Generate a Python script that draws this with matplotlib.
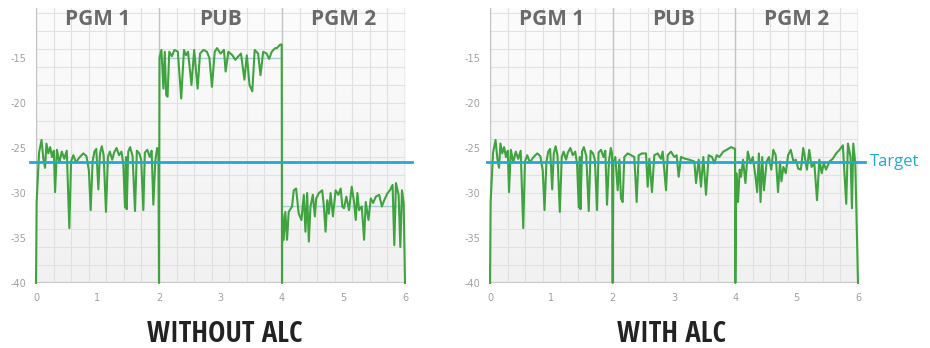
import matplotlib
matplotlib.use("Agg")
import matplotlib.pyplot as plt
from matplotlib import font_manager as fm
import numpy as np

# ---------------- data ----------------
sections = ["PGM 1", "PUB", "PGM 2"]
section_centers = [1, 3, 5]
titles = ["WITHOUT ALC", "WITH ALC"]
target_level = -26.5
yticks = [-40, -35, -30, -25, -20, -15]
xticks = [0, 1, 2, 3, 4, 5, 6]

# Programme 1 (identical in both charts)
pgm1_x = [0.0, 0.01, 0.05, 0.09, 0.12, 0.147, 0.17, 0.2, 0.23, 0.26, 0.29, 0.31, 0.34, 0.38,
          0.42, 0.46, 0.5, 0.542, 0.57, 0.607, 0.65, 0.7, 0.74, 0.77, 0.82, 0.86, 0.889, 0.92,
          0.95, 0.98, 1.014, 1.04, 1.07, 1.1, 1.138, 1.17, 1.2, 1.24, 1.27, 1.31, 1.35, 1.39,
          1.42, 1.447, 1.465, 1.475, 1.5, 1.53, 1.57, 1.61, 1.64, 1.68, 1.71, 1.745, 1.77,
          1.81, 1.85, 1.88, 1.908, 1.94, 1.97, 1.99]
pgm1_y = [-40, -31, -25.5, -24.1, -26.2, -27.2, -24.5, -25.6, -24.9, -26.0, -25.3, -29.9, -25.2, -26.6,
          -25.4, -26.2, -25.3, -33.9, -26.5, -25.8, -26.6, -26.1, -25.8, -25.6, -25.9, -27.5, -31.9, -26.5,
          -25.4, -25.1, -29.6, -25.6, -24.8, -25.8, -32.1, -26.0, -25.4, -26.3, -25.5, -25.0, -25.8, -25.4,
          -26.8, -31.6, -26.0, -31.8, -25.4, -24.9, -25.9, -32.0, -25.3, -25.6, -26.3, -31.9, -25.5,
          -25.2, -26.0, -25.3, -31.3, -26.4, -25.0, -25.6]

# Without ALC
pub_raw_x = [2.0, 2.008, 2.039, 2.072, 2.094, 2.117, 2.139, 2.167, 2.21, 2.25, 2.306, 2.361, 2.406,
             2.44, 2.472, 2.528, 2.572, 2.628, 2.667, 2.722, 2.778, 2.82, 2.861, 2.906, 2.944, 3.0,
             3.056, 3.083, 3.128, 3.194, 3.24, 3.278, 3.333, 3.389, 3.428, 3.472, 3.517, 3.556,
             3.611, 3.65, 3.694, 3.75, 3.79, 3.833, 3.889, 3.917, 3.972, 3.995]
pub_raw_y = [-40, -15.0, -14.1, -18.4, -14.3, -19.1, -19.3, -14.3, -14.8, -14.1, -14.3, -19.5, -14.1,
             -14.7, -14.3, -18.0, -14.1, -18.4, -14.5, -14.1, -14.3, -15.0, -18.2, -14.3, -13.9, -14.5,
             -14.1, -16.5, -14.3, -14.7, -15.2, -14.9, -14.5, -17.4, -14.7, -18.0, -18.7, -14.1,
             -14.5, -16.9, -14.3, -14.5, -15.1, -14.3, -13.9, -13.9, -13.5, -13.5]
pgm2_raw_x = [4.0, 4.003, 4.027, 4.054, 4.082, 4.109, 4.163, 4.191, 4.229, 4.272, 4.316, 4.354, 4.381,
              4.409, 4.436, 4.463, 4.501, 4.534, 4.556, 4.599, 4.654, 4.681, 4.708, 4.736, 4.763,
              4.79, 4.828, 4.872, 4.916, 4.954, 4.981, 5.008, 5.046, 5.09, 5.134, 5.172, 5.199,
              5.226, 5.253, 5.297, 5.335, 5.362, 5.406, 5.444, 5.482, 5.526, 5.58, 5.624, 5.662,
              5.717, 5.755, 5.798, 5.826, 5.853, 5.896, 5.924, 5.951, 5.978, 6.0]
pgm2_raw_y = [-40, -32.3, -35.2, -32.1, -35.2, -32.1, -31.5, -29.7, -29.5, -32.3, -33.0, -30.2, -34.3,
              -30.0, -35.4, -31.5, -30.2, -32.6, -30.6, -30.0, -29.7, -31.5, -34.3, -30.8, -32.3,
              -30.0, -32.6, -29.7, -30.2, -29.5, -31.5, -31.7, -30.4, -31.9, -29.3, -31.0, -33.0,
              -30.0, -31.9, -31.5, -35.2, -31.0, -33.0, -30.6, -31.1, -30.4, -30.2, -31.5, -30.8,
              -30.0, -29.7, -29.1, -35.8, -28.9, -30.2, -36.0, -29.7, -31.1, -40]

# With ALC
pub_alc_x = [2.0, 2.011, 2.043, 2.082, 2.109, 2.136, 2.163, 2.19, 2.245, 2.299, 2.353, 2.391, 2.424,
             2.478, 2.543, 2.571, 2.598, 2.641, 2.679, 2.734, 2.788, 2.815, 2.87, 2.897, 2.951,
             3.005, 3.043, 3.076, 3.114, 3.185, 3.25, 3.332, 3.359, 3.402, 3.44, 3.478, 3.522,
             3.565, 3.62, 3.658, 3.696, 3.739, 3.804, 3.859, 3.929, 3.967, 3.995]
pub_alc_y = [-40, -26.7, -26.0, -29.7, -26.3, -30.6, -31.0, -26.0, -25.6, -25.8, -26.0, -31.0, -25.8,
             -25.6, -25.6, -29.3, -26.2, -29.9, -25.8, -25.6, -26.2, -25.4, -29.7, -25.8, -25.4,
             -26.0, -25.8, -28.2, -26.0, -26.2, -26.3, -26.5, -28.9, -26.3, -29.3, -26.0, -30.2,
             -25.8, -26.0, -26.7, -25.8, -26.0, -25.4, -25.2, -24.9, -25.0, -25.1]
pgm2_alc_x = [4.0, 4.016, 4.044, 4.071, 4.093, 4.126, 4.164, 4.203, 4.247, 4.285, 4.329, 4.356, 4.384,
              4.411, 4.438, 4.466, 4.51, 4.548, 4.586, 4.619, 4.658, 4.696, 4.729, 4.751, 4.784,
              4.822, 4.86, 4.904, 4.948, 4.986, 5.025, 5.068, 5.107, 5.134, 5.167, 5.205, 5.244,
              5.288, 5.332, 5.37, 5.408, 5.441, 5.479, 5.534, 5.589, 5.644, 5.699, 5.753, 5.808,
              5.836, 5.879, 5.901, 5.923, 5.956, 6.0]
pgm2_alc_y = [-40, -27.8, -31.0, -27.4, -28.2, -26.3, -28.9, -25.4, -26.7, -26.0, -28.2, -29.9, -25.6,
              -31.0, -26.0, -29.7, -26.5, -26.0, -27.4, -25.2, -25.8, -29.9, -26.5, -28.7, -27.1,
              -27.8, -25.8, -25.2, -26.5, -26.3, -27.3, -27.4, -25.0, -26.0, -27.4, -25.2, -27.1,
              -26.7, -30.8, -26.3, -27.8, -26.7, -27.4, -26.5, -26.2, -25.6, -25.2, -24.7, -31.2,
              -24.5, -26.0, -31.7, -24.5, -26.7, -40]

# average level guides in the "without" chart
avg_pub_raw = -15.0
avg_pgm2_raw = -31.4

series = [
    (pgm1_x + pub_raw_x + pgm2_raw_x, pgm1_y + pub_raw_y + pgm2_raw_y),
    (pgm1_x + pub_alc_x + pgm2_alc_x, pgm1_y + pub_alc_y + pgm2_alc_y),
]

# ---------------- styling ----------------
GREEN = "#3fa33f"
CYAN = "#22a9d3"
HEAD = "#6a6a6a"
TICK = "#a0a0a0"


def find_condensed_bold():
    prefs = ["open", "noto", "liberation", "dejavu", "roboto", "lato", "inter"]
    found = []
    for f in fm.fontManager.ttflist:
        p = f.fname.lower()
        n = f.name.lower()
        narrow = ("condensed" in p or "narrow" in p or "condensed" in n or "narrow" in n)
        if not narrow:
            continue
        if "italic" in p or "oblique" in p:
            continue
        flat = p.replace("_", "").replace("-", "")
        if "extracondensed" in flat or "extra" in n:
            continue
        base = p.split("/")[-1]
        if "bold" not in base or "extrabold" in base or "semibold" in base:
            continue
        rank = next((i for i, k in enumerate(prefs) if k in p), len(prefs))
        found.append((rank, f.fname))
    found.sort()
    return found[0][1] if found else None


cond_path = find_condensed_bold()

fig = plt.figure(figsize=(9.3, 3.48), dpi=100)
fig.patch.set_facecolor("white")

axes_rects = [
    [36 / 930, 65 / 348, 369 / 930, 275 / 348],
    [490 / 930, 65 / 348, 368 / 930, 275 / 348],
]
title_x = [225 / 930, 671.5 / 930]
title_widths = [160, 113]

title_artists = []
for i, rect in enumerate(axes_rects):
    ax = fig.add_axes(rect)
    ax.set_xlim(0, 6)
    ax.set_ylim(-40, -9.44)
    grad = np.linspace(0, 1, 100).reshape(-1, 1)
    ax.imshow(grad, extent=[0, 6, -40, -9.44], aspect="auto", origin="lower",
              cmap=matplotlib.colors.LinearSegmentedColormap.from_list("bg", ["#f1f1f1", "#fcfcfc"]),
              zorder=0)
    for gx in np.arange(0, 6.001, 2 / 7):
        ax.axvline(gx, color="#e0e0e0", lw=0.8, zorder=1)
    for gy in np.arange(-40, -9.4, 2):
        ax.axhline(gy, color="#e2e2e2", lw=0.8, zorder=1)
    for sx in [0, 2, 4, 6]:
        ax.axvline(sx, color="#c4c4c4", lw=1.0, zorder=1)
    ax.axhline(-40, color="#c8c8c8", lw=1.6, zorder=1)

    for sp in ax.spines.values():
        sp.set_visible(False)
    ax.set_yticks(yticks)
    ax.set_yticklabels([str(v) for v in yticks])
    ax.set_xticks(xticks)
    ax.tick_params(length=0, labelsize=7, labelcolor=TICK, pad=7)

    for name, cx in zip(sections, section_centers):
        ax.text(cx, -10.7, name, ha="center", va="center", fontsize=15,
                fontweight="bold", color=HEAD, family=["Open Sans", "DejaVu Sans"], zorder=3)

    if i == 0:
        ax.plot([2, 4], [avg_pub_raw, avg_pub_raw], color="#a8cfd6", lw=1.0, zorder=2)
        ax.plot([4, 6], [avg_pgm2_raw, avg_pgm2_raw], color="#a8cfd6", lw=1.0, zorder=2)

    xs, ys = series[i]
    ax.plot(xs, ys, color=GREEN, lw=1.5, zorder=4, clip_on=False)

    x0 = -0.1 if i == 0 else -0.05
    ax.plot([x0, 6.12], [target_level, target_level], color=CYAN, lw=2.0,
            zorder=5, clip_on=False)
    if i == 1:
        ax.text(6.2, target_level, "Target", color=CYAN, fontsize=12, va="center",
                ha="left", family=["Open Sans", "DejaVu Sans"], clip_on=False)

    if cond_path:
        fp = fm.FontProperties(fname=cond_path, size=20)
    else:
        fp = fm.FontProperties(family="DejaVu Sans", weight="bold", stretch="condensed", size=20)
    t = fig.text(title_x[i], 0.040, titles[i], ha="center", va="center",
                 color="#222222", fontproperties=fp)
    title_artists.append(t)

# fit title widths to the reference
fig.canvas.draw()
renderer = fig.canvas.get_renderer()
scales = []
for t, w in zip(title_artists, title_widths):
    bb = t.get_window_extent(renderer)
    scales.append(w / bb.width)
s = min(1.05, float(np.mean(scales)))
for t in title_artists:
    t.set_fontsize(20 * s)

fig.savefig("out.png", dpi=100, facecolor="white")
